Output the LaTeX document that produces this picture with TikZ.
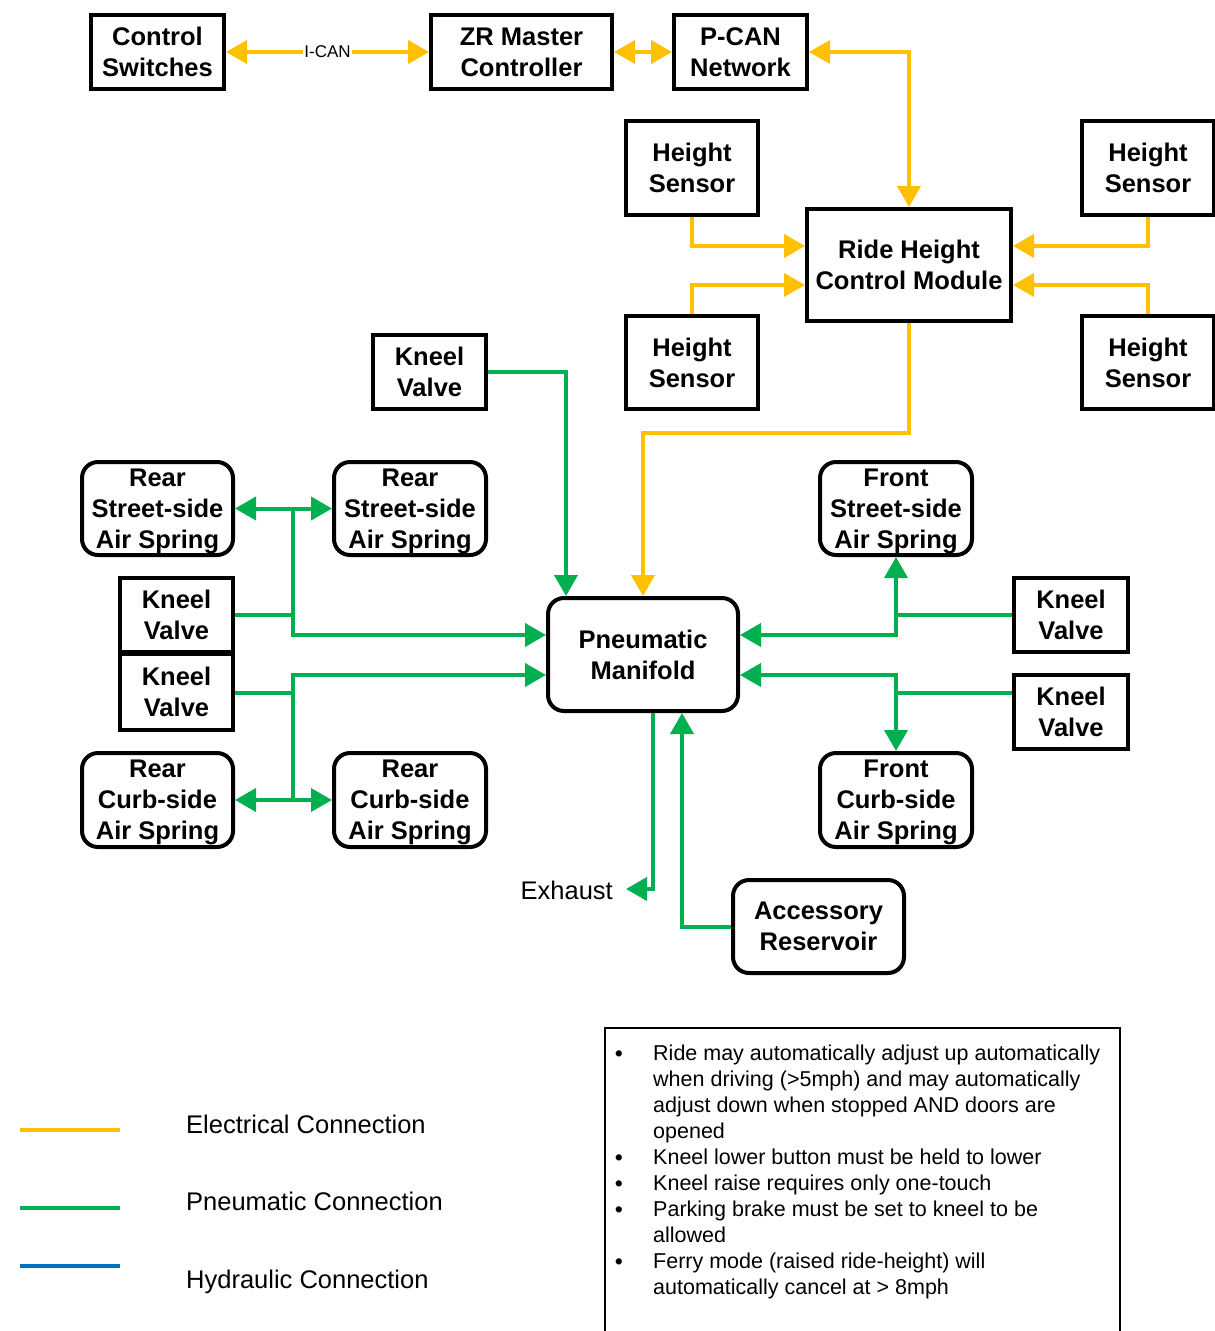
\documentclass[tikz,border=0pt]{standalone}
\usepackage{fontspec}
\setmainfont{Liberation Sans}
\usetikzlibrary{arrows.meta}
\definecolor{eyel}{HTML}{FFC000}
\definecolor{pgrn}{HTML}{00B050}
\definecolor{hblu}{HTML}{0070C0}
\begin{document}
\begin{tikzpicture}[x=1pt,y=-1pt,
 >={Triangle[length=21pt,width=23pt]},
 blk/.style={draw,line width=4pt,align=center,inner sep=0pt,font=\bfseries\fontsize{25.5}{31}\selectfont},
 rblk/.style={blk,rounded corners=16pt},
 elec/.style={draw=eyel,line width=4pt},
 pneu/.style={draw=pgrn,line width=4pt},
 lbl/.style={font=\fontsize{25.5}{31}\selectfont,inner sep=0pt},
 note/.style={font=\fontsize{21.5}{26}\selectfont,inner sep=0pt,anchor=base west}]
\useasboundingbox (0,0) rectangle (1215,1331);
\clip (0,0) rectangle (1215,1331);
% top row
\node[blk,minimum width=133pt,minimum height=74pt] (cs) at (157.5,52) {Control\\Switches};
\node[blk,minimum width=181pt,minimum height=74pt] (zr) at (521.5,52) {ZR Master\\Controller};
\node[blk,minimum width=133pt,minimum height=74pt] (pcan) at (740.5,52) {P-CAN\\Network};
% sensors and module
\node[blk,minimum width=132pt,minimum height=94pt] (hs1) at (692,168) {Height\\Sensor};
\node[blk,minimum width=132pt,minimum height=94pt] (hs2) at (1148,168) {Height\\Sensor};
\node[blk,minimum width=132pt,minimum height=93pt] (hs3) at (692,362.5) {Height\\Sensor};
\node[blk,minimum width=132pt,minimum height=93pt] (hs4) at (1148,362.5) {Height\\Sensor};
\node[blk,minimum width=204pt,minimum height=112pt] (rh) at (909,265) {Ride Height\\Control Module};
% pneumatic side
\node[blk,minimum width=113pt,minimum height=74pt] (kv0) at (429.5,372) {Kneel\\Valve};
\node[rblk,minimum width=151pt,minimum height=93pt] (rsl) at (157.5,508.5) {Rear\\Street-side\\\smash{Air Spring}};
\node[rblk,minimum width=152pt,minimum height=93pt] (rsr) at (410,508.5) {Rear\\Street-side\\\smash{Air Spring}};
\node[blk,minimum width=113pt,minimum height=74pt] (kv1) at (176.5,615) {Kneel\\Valve};
\node[blk,minimum width=113pt,minimum height=76pt] (kv2) at (176.5,692) {Kneel\\Valve};
\node[rblk,minimum width=151pt,minimum height=94pt] (rcl) at (157.5,800) {Rear\\Curb-side\\\smash{Air Spring}};
\node[rblk,minimum width=152pt,minimum height=94pt] (rcr) at (410,800) {Rear\\Curb-side\\\smash{Air Spring}};
\node[rblk,minimum width=190pt,minimum height=113pt] (pm) at (643,654.5) {Pneumatic\\Manifold};
\node[rblk,minimum width=152pt,minimum height=93pt] (fs) at (896,508.5) {Front\\Street-side\\\smash{Air Spring}};
\node[blk,minimum width=114pt,minimum height=74pt] (kv3) at (1071,615) {Kneel\\Valve};
\node[blk,minimum width=114pt,minimum height=74pt] (kv4) at (1071,712) {Kneel\\Valve};
\node[rblk,minimum width=152pt,minimum height=94pt] (fc) at (896,800) {Front\\Curb-side\\\smash{Air Spring}};
\node[rblk,minimum width=171pt,minimum height=93pt] (ar) at (818.5,926.5) {Accessory\\Reservoir};
\node[lbl,anchor=base east] (exh) at (613,899) {Exhaust};
% electrical connectors
\draw[elec,<->] (cs.east) -- node[fill=white,inner sep=1pt,font=\fontsize{17}{20}\selectfont] (ican) {I-CAN} (zr.west);
\draw[elec,<->] (zr.east) -- (pcan.west);
\draw[elec,<->] (pcan.east) -| (rh.north);
\draw[elec,->] (hs1.south) |- (rh.west |- 0,246);
\draw[elec,->] (hs3.north) |- (rh.west |- 0,285);
\draw[elec,->] (hs2.south) |- (rh.east |- 0,246);
\draw[elec,->] (hs4.north) |- (rh.east |- 0,285);
\draw[elec,->] (rh.south) -- (rh.south |- 0,433) -| (pm.north);
% pneumatic connectors
\draw[pneu,->] (kv0.east) -| ([xshift=20pt]pm.north west);
\coordinate (j1) at (293,508.5);
\coordinate (j2) at (293,800);
\draw[pneu,<->] (rsl.east) -- (rsr.west);
\draw[pneu,->] (j1) |- (pm.west |- 0,635);
\draw[pneu] (kv1.east) -- (kv1.east -| j1);
\draw[pneu,<->] (rcl.east) -- (rcr.west);
\draw[pneu,->] (j2) |- (pm.west |- 0,675);
\draw[pneu] (kv2.east |- 0,693) -- (j2 |- 0,693);
\draw[pneu,<->] (fs.south) |- (pm.east |- 0,635);
\draw[pneu] (kv3.west) -- (kv3.west -| fs.south);
\draw[pneu,<->] (fc.north) |- (pm.east |- 0,675);
\draw[pneu] (kv4.west |- 0,693) -- (fc.north |- 0,693);
\draw[pneu,->] ([xshift=10pt]pm.south) |- ([xshift=13pt]exh.east |- 0,889);
\draw[pneu,->] (ar.west) -| ([xshift=39pt]pm.south);
% legend
\draw[elec] (20,1130) -- (120,1130);
\draw[pneu] (20,1208) -- (120,1208);
\draw[draw=hblu,line width=4pt] (20,1266) -- (120,1266);
\node[lbl,anchor=base west] (le) at (186,1133) {Electrical Connection};
\node[lbl,anchor=base west] (lp) at (186,1210) {Pneumatic Connection};
\node[lbl,anchor=base west] (lh) at (186,1288) {Hydraulic Connection};
% notes
\draw[line width=1.5pt] (605,1028) rectangle (1120,1345);
\foreach \t [count=\i] in {Ride may automatically adjust up automatically,
  when driving (>5mph) and may automatically,
  adjust down when stopped AND doors are,
  opened,
  Kneel lower button must be held to lower,
  Kneel raise requires only one-touch,
  Parking brake must be set to kneel to be,
  allowed,
  Ferry mode (raised ride-height) will,
  automatically cancel at > 8mph}
  \node[note] (n\i) at (653,{1060+26*(\i-1)}) {\t};
\foreach \k in {1,5,6,7,9}
  \node[note,anchor=base,font=\fontsize{23}{26}\selectfont] (b\k) at (619,{1061+26*(\k-1)}) {\textbullet};
\end{tikzpicture}
\end{document}
